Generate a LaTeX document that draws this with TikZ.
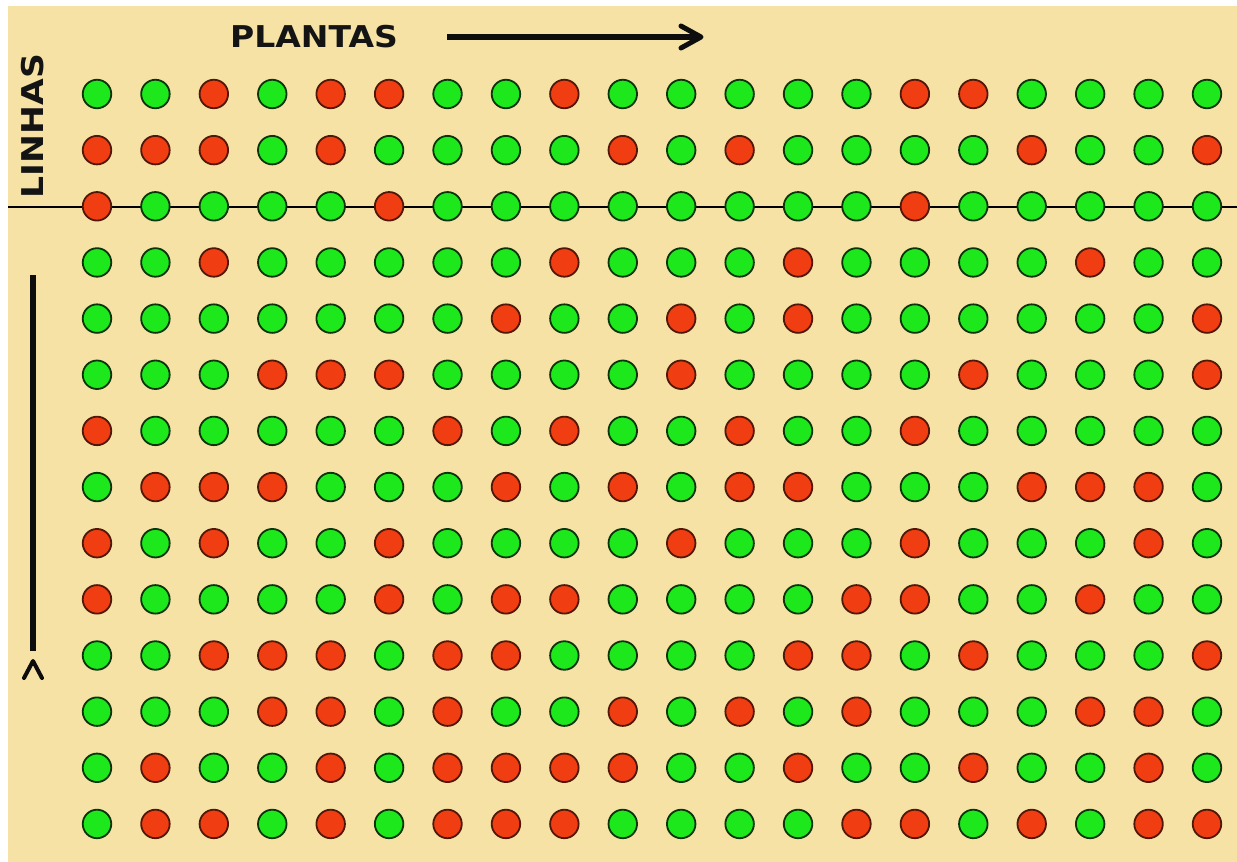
\documentclass[tikz,border=0pt]{standalone}
\usepackage{graphicx}
\usepackage{fontspec}
\setmainfont{DejaVu Sans}
\usetikzlibrary{calc}
\definecolor{bg}{RGB}{245,226,164}
\definecolor{gfill}{RGB}{28,232,28}
\definecolor{gline}{RGB}{12,52,12}
\definecolor{rfill}{RGB}{240,62,18}
\definecolor{rline}{RGB}{80,24,10}
\begin{document}
\begin{tikzpicture}[x=1pt,y=-1pt,
  dot/.style={circle,minimum size=28.5pt,inner sep=0pt,line width=1.8pt},
  dotG/.style={dot,fill=gfill,draw=gline},
  dotR/.style={dot,fill=rfill,draw=rline},
  lbl/.style={font=\bfseries\fontsize{30}{30}\selectfont,inner sep=0pt,text=black!92},
  thick arrow/.style={line width=6pt,black!95},
  chev/.style={line width=5pt,line cap=round,line join=round,black!95}]
\useasboundingbox (0,0) rectangle (1237,862);
\fill[white] (0,0) rectangle (1237,862);
\fill[bg] (8,6) rectangle (1237,862);
% horizontal separator
\coordinate (hl) at (8,207);
\coordinate (hr) at (1237,207);
\draw[line width=1.6pt] (hl) -- (hr);
% grid of plants
\foreach \row [count=\r] in {
 {G,G,R,G,R,R,G,G,R,G,G,G,G,G,R,R,G,G,G,G},
 {R,R,R,G,R,G,G,G,G,R,G,R,G,G,G,G,R,G,G,R},
 {R,G,G,G,G,R,G,G,G,G,G,G,G,G,R,G,G,G,G,G},
 {G,G,R,G,G,G,G,G,R,G,G,G,R,G,G,G,G,R,G,G},
 {G,G,G,G,G,G,G,R,G,G,R,G,R,G,G,G,G,G,G,R},
 {G,G,G,R,R,R,G,G,G,G,R,G,G,G,G,R,G,G,G,R},
 {R,G,G,G,G,G,R,G,R,G,G,R,G,G,R,G,G,G,G,G},
 {G,R,R,R,G,G,G,R,G,R,G,R,R,G,G,G,R,R,R,G},
 {R,G,R,G,G,R,G,G,G,G,R,G,G,G,R,G,G,G,R,G},
 {R,G,G,G,G,R,G,R,R,G,G,G,G,R,R,G,G,R,G,G},
 {G,G,R,R,R,G,R,R,G,G,G,G,R,R,G,R,G,G,G,R},
 {G,G,G,R,R,G,R,G,G,R,G,R,G,R,G,G,G,R,R,G},
 {G,R,G,G,R,G,R,R,R,R,G,G,R,G,G,R,G,G,R,G},
 {G,R,R,G,R,G,R,R,R,G,G,G,G,R,R,G,R,G,R,R}} {
  \foreach \v [count=\c] in \row {
    \node[dot\v] (c-\r-\c) at ({97+(\c-1)*58.42},{94+(\r-1)*56.15}) {};
  }
}
% PLANTAS label and arrow
\node[lbl] (plantas) at (314,37) {\scalebox{1.1}[1]{PLANTAS}};
\coordinate (pa1) at (447,37);
\coordinate (pa2) at (701,37);
\draw[thick arrow] (pa1) -- (pa2);
\draw[chev] ($(pa2)+(-20,-11)$) -- (pa2) -- ($(pa2)+(-20,11)$);
% LINHAS label
\node[lbl,rotate=90] (linhas) at (33,126) {\scalebox{1.15}[1]{LINHAS}};
% vertical arrow
\coordinate (la1) at (33,275);
\coordinate (la2) at (33,651);
\draw[thick arrow] (la1) -- (la2);
\coordinate (car) at (33,661);
\draw[chev,line width=4pt] ($(car)+(-9,17)$) -- (car) -- ($(car)+(9,17)$);
\end{tikzpicture}
\end{document}
